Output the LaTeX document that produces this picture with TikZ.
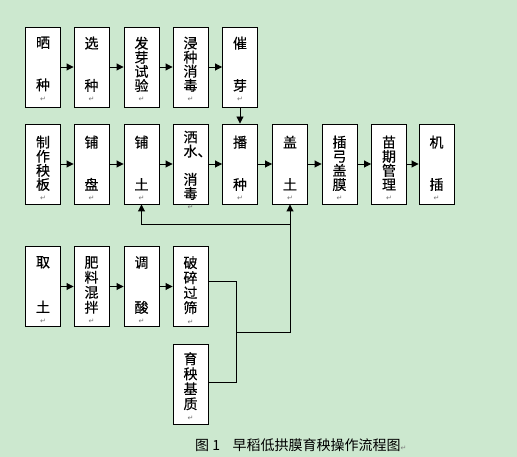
\documentclass[tikz,border=0pt]{standalone}
\usepackage{fontspec}
\newfontfamily\cjk{Noto Sans CJK SC}[FakeBold=0.3]
\newfontfamily\cjkcap{Noto Sans CJK SC}
\newfontfamily\dvs{DejaVu Sans}
\usetikzlibrary{arrows.meta}
\definecolor{bggreen}{RGB}{204,232,207}
\newcommand\pmk{{\dvs\fontsize{7}{7}\selectfont\color{gray!90!black}↵}}
\newcommand\gap{\mbox{}\\\mbox{}}
\tikzset{
  box/.style={draw=black, line width=0.9pt, fill=white, minimum width=35pt, minimum height=80pt, inner sep=0pt},
  txt/.style={font=\cjk\fontsize{14}{14.1}\selectfont, align=center, inner sep=0pt, anchor=north},
  txtb/.style={font=\cjk\fontsize{14}{15}\selectfont, align=center, inner sep=0pt, anchor=north},
  link/.style={line width=0.9pt, draw=black},
  arr/.style={link, -{Triangle[length=7pt,width=7pt]}},
  captext/.style={font=\cjkcap\fontsize{14}{14}\selectfont, inner sep=0pt, anchor=west}
}
\begin{document}
\begin{tikzpicture}[x=1pt,y=-1pt]
\fill[bggreen] (0,0) rectangle (517,457);
\useasboundingbox (0,0) rectangle (517,457);
% row 1
\node[box] (a1) at (43,67) {};
\node[box] (a2) at (91.5,67) {};
\node[box] (a3) at (141.5,67) {};
\node[box] (a4) at (190.5,67) {};
\node[box] (a5) at (240,67) {};
\node[txt] (a1t) at ([yshift=-10pt]a1.north) {晒\\\gap\\种\\[-3pt]\pmk};
\node[txt] (a2t) at ([yshift=-10pt]a2.north) {选\\\gap\\种\\[-3pt]\pmk};
\node[txt] (a3t) at ([yshift=-10pt]a3.north) {发\\芽\\试\\验\\[-3pt]\pmk};
\node[txt] (a4t) at ([yshift=-10pt]a4.north) {浸\\种\\消\\毒\\[-3pt]\pmk};
\node[txt] (a5t) at ([yshift=-10pt]a5.north) {催\\\gap\\芽\\[-3pt]\pmk};
% row 2
\node[box] (b1) at (43,164) {};
\node[box] (b2) at (91.5,164) {};
\node[box] (b3) at (141.5,164) {};
\node[box] (b4) at (190.5,164) {};
\node[box] (b5) at (240,164) {};
\node[box] (b6) at (290,164) {};
\node[box] (b7) at (339.5,164) {};
\node[box] (b8) at (389,164) {};
\node[box] (b9) at (436.5,164) {};
\node[txt] (b1t) at ([yshift=-12pt]b1.north) {制\\作\\秧\\板\\[-3pt]\pmk};
\node[txt] (b2t) at ([yshift=-12pt]b2.north) {铺\\\gap\\盘\\[-3pt]\pmk};
\node[txt] (b3t) at ([yshift=-12pt]b3.north) {铺\\\gap\\土\\[-3pt]\pmk};
\node[txt] (b4t) at ([yshift=-7pt]b4.north) {洒\\水\rlap{、}\\\mbox{}\\消\\毒\\[-3pt]\pmk};
\node[txt] (b5t) at ([yshift=-12pt]b5.north) {播\\\gap\\种\\[-3pt]\pmk};
\node[txt] (b6t) at ([yshift=-12pt]b6.north) {盖\\\gap\\土\\[-3pt]\pmk};
\node[txt] (b7t) at ([yshift=-12pt]b7.north) {插\\弓\\盖\\膜\\[-3pt]\pmk};
\node[txt] (b8t) at ([yshift=-12pt]b8.north) {苗\\期\\管\\理\\[-3pt]\pmk};
\node[txt] (b9t) at ([yshift=-12pt]b9.north) {机\\\gap\\插\\[-3pt]\pmk};
% row 3
\node[box] (c1) at (43,286.5) {};
\node[box] (c2) at (91.5,286.5) {};
\node[box] (c3) at (141.5,286.5) {};
\node[box] (c4) at (190.5,286.5) {};
\node[txtb] (c1t) at ([yshift=-10pt]c1.north) {取\\\gap\\土\\[-4pt]\pmk};
\node[txtb] (c2t) at ([yshift=-10pt]c2.north) {肥\\料\\混\\拌\\[-4pt]\pmk};
\node[txtb] (c3t) at ([yshift=-10pt]c3.north) {调\\\gap\\酸\\[-4pt]\pmk};
\node[txtb] (c4t) at ([yshift=-10pt]c4.north) {破\\碎\\过\\筛\\[-4pt]\pmk};
% substrate
\node[box] (d1) at (190.5,384.5) {};
\node[txtb] (d1t) at ([yshift=-8pt]d1.north) {育\\秧\\基\\质\\[-4pt]\pmk};
% arrows
\draw[arr] (a1) -- (a2);
\draw[arr] (a2) -- (a3);
\draw[arr] (a3) -- (a4);
\draw[arr] (a4) -- (a5);
\draw[arr] (a5) -- (b5);
\draw[arr] (b1) -- (b2);
\draw[arr] (b2) -- (b3);
\draw[arr] (b3) -- (b4);
\draw[arr] (b4) -- (b5);
\draw[arr] (b5) -- (b6);
\draw[arr] (b6) -- (b7);
\draw[arr] (b7) -- (b8);
\draw[arr] (b8) -- (b9);
\draw[arr] (c1) -- (c2);
\draw[arr] (c2) -- (c3);
\draw[arr] (c3) -- (c4);
% soil connectors
\coordinate (m) at (236,332);
\coordinate (n) at (290,224);
\draw[link] ([yshift=5.5pt]c4.east) -| (m);
\draw[link] ([yshift=2.5pt]d1.east) -| (m);
\draw[arr] (m) -| (b6.south);
\draw[arr] (n) -| (b3.south);
% caption
\node[captext] (capt) at (195,445) {图 1\hspace{0.9em}早稻低拱膜育秧操作流程图{\dvs\fontsize{7}{7}\selectfont\color{gray}↵}};
\end{tikzpicture}
\end{document}
